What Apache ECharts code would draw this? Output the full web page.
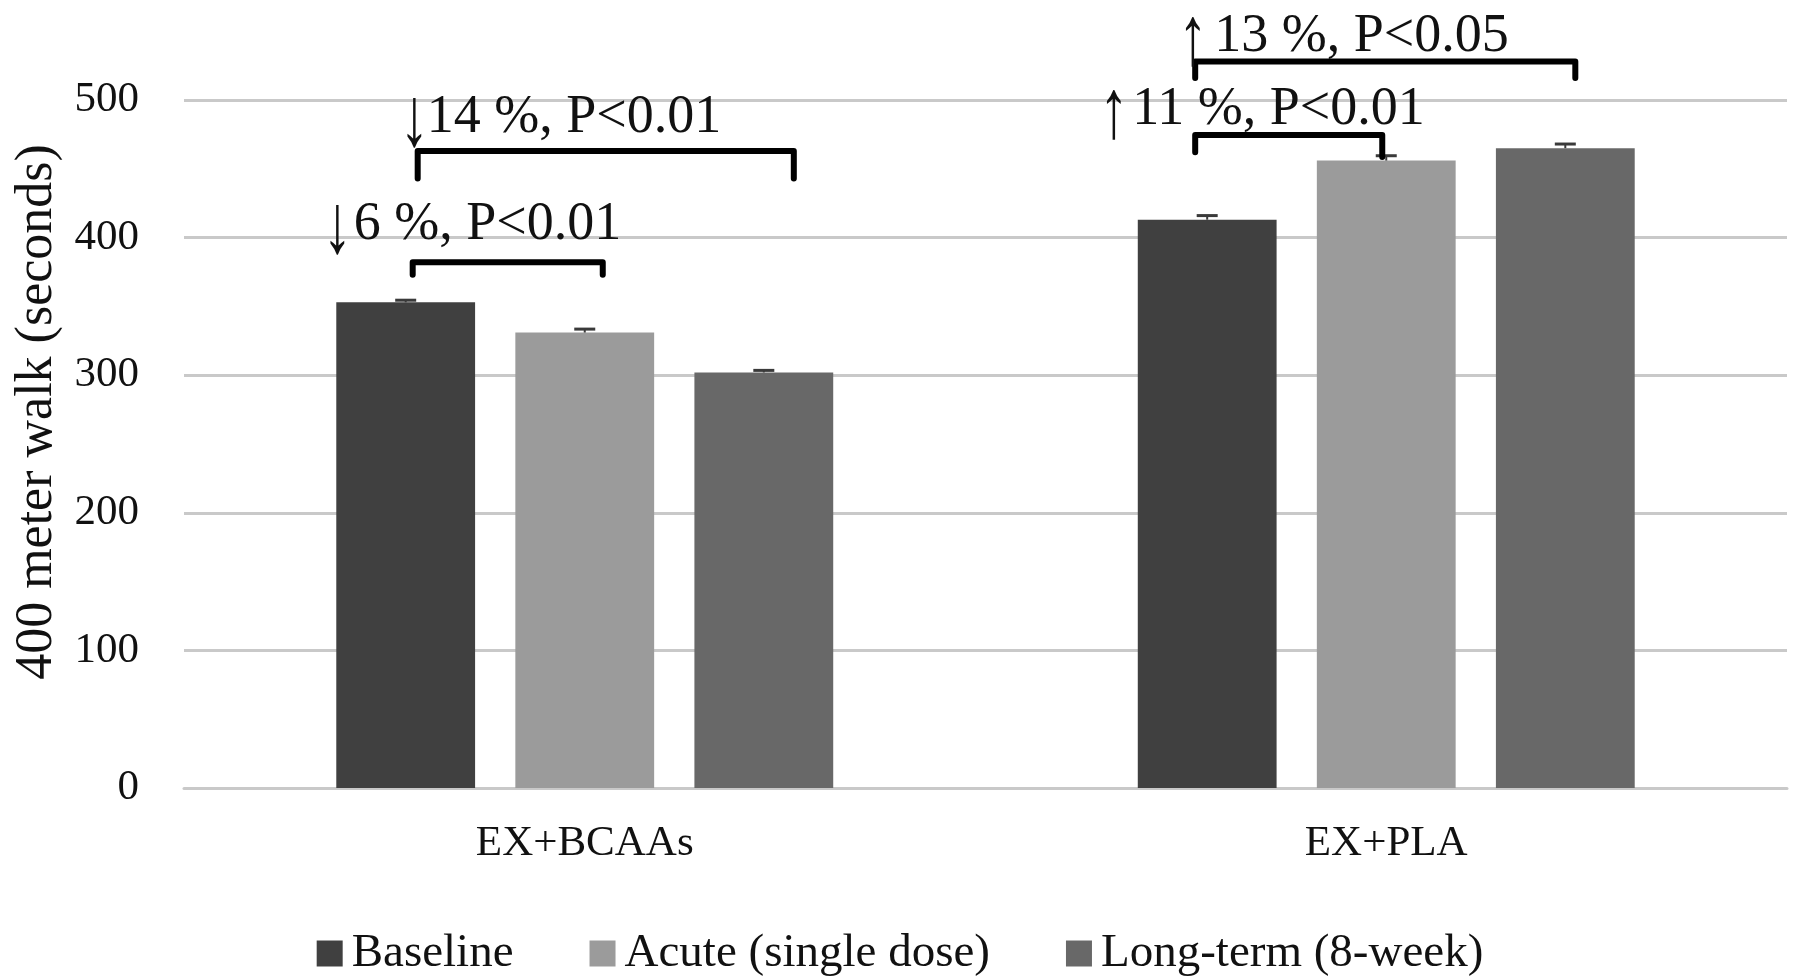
<!DOCTYPE html>
<html>
<head>
<meta charset="utf-8">
<script src="https://cdn.jsdelivr.net/npm/echarts@6/dist/echarts.min.js"></script>
<style>
  html, body { margin: 0; padding: 0; background: #fff; }
  #chart { width: 1800px; height: 979px; }
</style>
</head>
<body>
<div id="chart"></div>
<script>
// ---- data ----
const categories = ['EX+BCAAs', 'EX+PLA'];
const seriesNames = ['Baseline', 'Acute (single dose)', 'Long-term (8-week)'];
const baseline = [353, 413];
const acute = [331, 456];
const longTerm = [302, 465];
const baselineErr = [1.5, 3];
const acuteErr = [2.5, 3.5];
const longTermErr = [1.5, 3];
const yMin = 0, yMax = 500, yStep = 100;
const yAxisTitle = '400 meter walk (seconds)';

// significance annotations: category, from-series, to-series, bracket top, left leg end, right leg end, label level
const annArrows = ['\u2193', '\u2193', '\u2191', '\u2191'];
const annLabels = ['6 %, P<0.01', '14 %, P<0.01', '11 %, P<0.01', '13 %, P<0.05'];
const annCategory = [0, 0, 1, 1];
const annFrom = [0, 0, 0, 0];
const annTo = [1, 2, 1, 2];
const annTop = [382, 463, 474.5, 528];
const annLegLeft = [373, 443, 462, 516];
const annLegRight = [373, 443, 458.5, 516];
const annLabelLevel = [409, 487, 493, 546];

// ---- layout / style ----
const FONT = "'Liberation Serif', 'DejaVu Serif', serif";
const colors = ['#404040', '#9b9b9b', '#686868'];
const CAT_GAP = 0.38, BAR_GAP = 0.29;
const bracketNudge = [[7, 18], [12, 30], [-12, -4], [-12, 10]];
const arrowNudge = [-90, -18, -96, -17];
const textAfterArrow = [31, 27, 33, 36];

function barCenter(api, cat, si) {
  const bw = api.size([1, 0])[0];
  const barW = bw * (1 - CAT_GAP) / (3 + 2 * BAR_GAP);
  const step = barW * (1 + BAR_GAP);
  return api.coord([cat, 0])[0] + (si - 1) * step;
}

const values = [baseline, acute, longTerm];
const errs = [baselineErr, acuteErr, longTermErr];
const errData = [];
for (let s = 0; s < 3; s++) {
  for (let c = 0; c < categories.length; c++) {
    errData.push([c, s, values[s][c], errs[s][c]]);
  }
}
const annData = annLabels.map((t, i) => [annCategory[i], annFrom[i], annTo[i], annTop[i], annLegLeft[i], annLegRight[i], annLabelLevel[i], i]);

const chart = echarts.init(document.getElementById('chart'));
chart.setOption({
  animation: false,
  backgroundColor: '#fff',
  textStyle: { fontFamily: FONT },
  grid: { left: 184, right: 13, top: 100, bottom: 191, outerBoundsMode: 'none' },
  legend: {
    data: seriesNames,
    left: 'center',
    top: 925,
    icon: 'rect',
    itemWidth: 26,
    itemHeight: 26,
    itemGap: 76,
    textStyle: { fontSize: 47, fontFamily: FONT, color: '#111', padding: [0, 0, 0, 4] }
  },
  xAxis: {
    type: 'category',
    data: categories,
    axisLine: { lineStyle: { color: '#c9c9c9', width: 3 } },
    axisTick: { show: false },
    axisLabel: { fontSize: 43, fontFamily: FONT, color: '#111', margin: 34 }
  },
  yAxis: {
    type: 'value',
    min: yMin, max: yMax, interval: yStep,
    name: yAxisTitle,
    nameLocation: 'middle',
    nameRotate: 90,
    nameGap: 120,
    nameTextStyle: { fontSize: 52, fontFamily: FONT, color: '#111', padding: [0, 0, 0, 64] },
    axisLine: { show: false },
    axisTick: { show: false },
    splitLine: { lineStyle: { color: '#c9c9c9', width: 3 } },
    axisLabel: { fontSize: 43, fontFamily: FONT, color: '#111', margin: 45 }
  },
  series: [
    ...seriesNames.map((n, i) => ({
      name: n,
      type: 'bar',
      data: values[i],
      barCategoryGap: (CAT_GAP * 100) + '%',
      barGap: (BAR_GAP * 100) + '%',
      itemStyle: { color: colors[i] }
    })),
    {
      type: 'custom',
      name: 'errors',
      clip: false,
      z: 5,
      encode: { x: 0, y: 2 },
      data: errData,
      renderItem: function (params, api) {
        const c = api.value(0), s = api.value(1), v = api.value(2), e = api.value(3);
        const cx = barCenter(api, c, s);
        const y0 = api.coord([c, v])[1];
        const y1 = api.coord([c, v + e])[1];
        return {
          type: 'group',
          children: [
            { type: 'line', shape: { x1: cx, y1: y0, x2: cx, y2: y1 }, style: { stroke: '#3a3a3a', lineWidth: 2 } },
            { type: 'line', shape: { x1: cx - 10.5, y1: y1, x2: cx + 10.5, y2: y1 }, style: { stroke: '#3a3a3a', lineWidth: 3 } }
          ]
        };
      }
    },
    {
      type: 'custom',
      name: 'brackets',
      clip: false,
      z: 6,
      encode: { x: 0, y: 3 },
      data: annData,
      renderItem: function (params, api) {
        const c = api.value(0), f = api.value(1), t = api.value(2);
        const top = api.value(3), legL = api.value(4), legR = api.value(5), lvl = api.value(6);
        const k = api.value(7);
        const xL = barCenter(api, c, f) + bracketNudge[k][0];
        const xR = barCenter(api, c, t) + bracketNudge[k][1];
        const yT = api.coord([c, top])[1];
        const yL = api.coord([c, legL])[1];
        const yR = api.coord([c, legR])[1];
        const yTxt = api.coord([c, lvl])[1];
        const xA = xL + arrowNudge[k];
        return {
          type: 'group',
          children: [
            {
              type: 'polyline',
              shape: { points: [[xL, yL], [xL, yT], [xR, yT], [xR, yR]] },
              style: { stroke: '#000', lineWidth: 6, fill: null, lineJoin: 'round', lineCap: 'round' }
            },
            {
              type: 'text',
              x: xA, y: yTxt + 5,
              scaleX: 0.7,
              style: {
                text: annArrows[k], x: 0, y: 0,
                fontSize: 84, fontFamily: FONT, fill: '#111',
                align: 'left', verticalAlign: 'middle'
              }
            },
            {
              type: 'text',
              style: {
                text: annLabels[k], x: xA + textAfterArrow[k], y: yTxt,
                fontSize: 54, fontFamily: FONT, fill: '#111',
                align: 'left', verticalAlign: 'middle'
              }
            }
          ]
        };
      }
    }
  ]
});
</script>
</body>
</html>
